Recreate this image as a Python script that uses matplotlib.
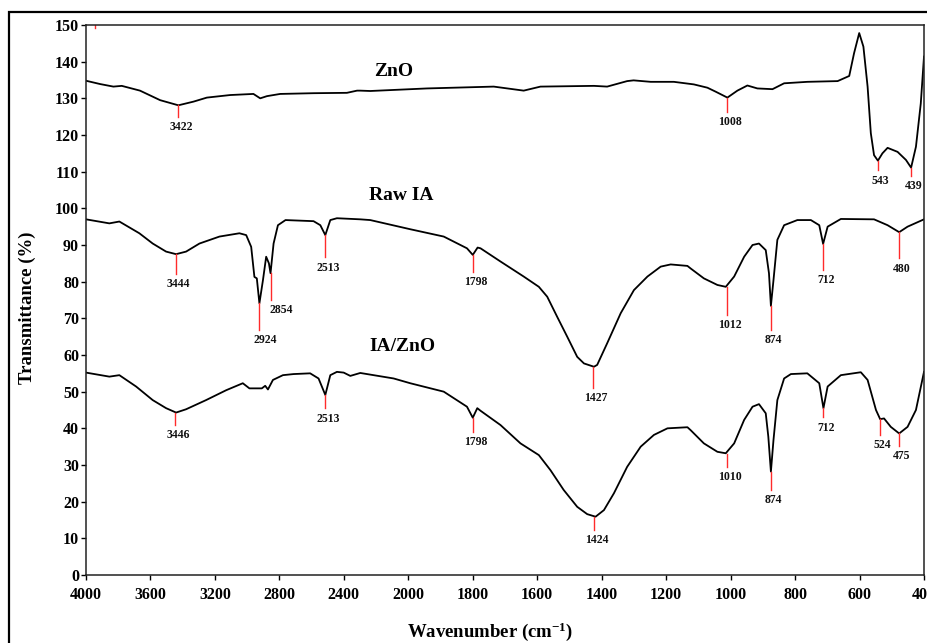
import numpy as np
import matplotlib
matplotlib.use("Agg")
import matplotlib.pyplot as plt
from matplotlib.patches import Rectangle

# ---------------- data ----------------
zno_wn = [4000, 3913, 3830, 3778, 3665, 3540, 3427, 3333, 3250, 3105, 2961, 2919, 2877,
          2795, 2588, 2381, 2318, 2298, 2236, 1942, 1735, 1642, 1590, 1424, 1383, 1321,
          1301, 1248, 1176, 1114, 1072, 1046, 1010, 979, 948, 917, 870, 834, 762, 668,
          632, 617, 601, 588, 575, 565, 555, 543, 529, 513, 482, 456, 440, 425, 410, 400]
zno_t = [134.8, 133.9, 133.2, 133.4, 132.1, 129.5, 128.1, 129.1, 130.2, 130.9, 131.2, 130.0, 130.6,
         131.2, 131.4, 131.5, 132.1, 132.1, 132.0, 132.7, 133.2, 132.1, 133.2, 133.4, 133.2, 134.7,
         134.9, 134.5, 134.5, 133.8, 132.9, 131.8, 130.2, 132.1, 133.5, 132.7, 132.5, 134.1, 134.5, 134.7,
         136.1, 142.3, 147.8, 144.1, 133.2, 120.5, 114.5, 113.0, 115.0, 116.5, 115.4, 113.2, 111.1, 116.8, 128.6, 141.4]

raw_wn = [4000, 3855, 3793, 3669, 3586, 3503, 3441, 3379, 3296, 3172, 3048, 3006, 2975, 2955,
          2940, 2924, 2902, 2882, 2865, 2855, 2836, 2809, 2762, 2588, 2546, 2515, 2484, 2443,
          2298, 2236, 1994, 1890, 1818, 1800, 1785, 1776, 1714, 1642, 1595, 1569, 1538, 1507,
          1476, 1455, 1424, 1414, 1383, 1341, 1300, 1258, 1217, 1186, 1134, 1124, 1083, 1041,
          1015, 989, 958, 932, 912, 891, 881, 875, 867, 855, 834, 793, 751, 725, 713, 699,
          658, 555, 513, 477, 451, 400]
raw_t = [97.0, 95.9, 96.4, 93.2, 90.4, 88.2, 87.5, 88.2, 90.4, 92.3, 93.2, 92.7, 89.5, 81.3,
         80.9, 74.1, 80.4, 86.8, 85.0, 82.3, 90.4, 95.4, 96.8, 96.5, 95.4, 92.7, 96.8, 97.3,
         97.0, 96.8, 94.3, 92.3, 89.1, 87.3, 89.3, 89.1, 85.5, 81.4, 78.6, 75.9, 70.4, 65.0,
         59.5, 57.7, 56.8, 57.3, 63.2, 71.4, 77.7, 81.4, 84.1, 84.7, 84.3, 83.6, 80.9, 79.1,
         78.6, 81.4, 86.8, 90.0, 90.4, 88.6, 82.3, 73.4, 80.4, 91.4, 95.4, 96.8, 96.8, 95.4, 90.3, 95.0,
         97.1, 97.0, 95.4, 93.5, 95.0, 97.0]

iazno_wn = [4000, 3855, 3793, 3689, 3586, 3503, 3441, 3379, 3255, 3130, 3027, 2986, 2909, 2888,
            2871, 2840, 2778, 2712, 2609, 2557, 2515, 2484, 2443, 2401, 2360, 2298, 2091, 1994,
            1890, 1818, 1800, 1786, 1776, 1714, 1652, 1595, 1559, 1518, 1476, 1445, 1419, 1393,
            1362, 1321, 1279, 1238, 1196, 1134, 1124, 1083, 1041, 1015, 989, 958, 932, 912, 891,
            883, 875, 867, 855, 834, 813, 762, 725, 712, 699, 658, 596, 575, 549, 536, 524, 503,
            477, 451, 425, 400]
iazno_t = [55.2, 54.1, 54.5, 51.4, 47.7, 45.5, 44.3, 45.2, 47.7, 50.4, 52.3, 50.9, 50.9, 51.6,
           50.6, 53.2, 54.5, 54.8, 55.0, 53.6, 49.1, 54.5, 55.4, 55.2, 54.3, 55.1, 53.6, 52.3,
           50.0, 45.9, 42.9, 45.5, 44.8, 40.9, 35.9, 32.7, 28.6, 23.2, 18.6, 16.6, 15.9, 17.7,
           22.3, 29.5, 35.0, 38.2, 40.0, 40.3, 39.5, 35.9, 33.6, 33.2, 35.9, 42.3, 45.9, 46.6, 44.1,
           37.7, 28.2, 36.8, 47.7, 53.6, 54.8, 55.0, 52.3, 45.5, 51.4, 54.5, 55.3, 53.2, 45.0, 42.5, 42.7, 40.4,
           38.6, 40.4, 45.0, 55.4]

# peak annotations: (label, wavenumber, T at peak, T at end of red marker)
peaks_zno = [("3422", 3427, 128.1, 124.9), ("1008", 1010, 130.0, 126.3),
             ("543", 543, 112.9, 110.4), ("439", 441, 111.0, 108.8)]
peaks_raw = [("3444", 3444, 87.5, 82.1), ("2924", 2924, 74.1, 66.8), ("2854", 2855, 82.3, 75.0),
             ("2513", 2515, 92.7, 86.7), ("1798", 1800, 87.3, 82.7), ("1427", 1427, 56.7, 51.0),
             ("1012", 1012, 78.6, 70.9), ("874", 875, 73.4, 66.8), ("712", 713, 90.3, 83.2),
             ("480", 477, 93.5, 86.4)]
peaks_iazno = [("3446", 3446, 44.2, 41.0), ("2513", 2515, 49.0, 45.5), ("1798", 1800, 42.8, 39.1),
               ("1424", 1424, 15.9, 12.3), ("1010", 1012, 33.1, 29.5), ("874", 875, 28.2, 23.2),
               ("712", 712, 45.5, 43.0), ("524", 537, 42.5, 38.2), ("475", 477, 38.6, 35.2)]

series_names = ["ZnO", "Raw IA", "IA/ZnO"]
name_pos = [(2093, 137.2), (2043, 103.6), (2039, 62.3)]

xticks = [4000, 3600, 3200, 2800, 2400, 2000, 1800, 1600, 1400, 1200, 1000, 800, 600, 400]
yticks = list(range(0, 151, 10))

# ---------------- style ----------------
plt.rcParams['font.family'] = ['Liberation Serif', 'DejaVu Serif']
plt.rcParams['font.weight'] = 'bold'
plt.rcParams['mathtext.fontset'] = 'custom'
plt.rcParams['mathtext.rm'] = 'Liberation Serif:bold'
plt.rcParams['mathtext.it'] = 'Liberation Serif:bold'
plt.rcParams['mathtext.bf'] = 'Liberation Serif:bold'

fig = plt.figure(figsize=(9.27, 6.43), dpi=100)
ax = fig.add_axes([86 / 927, 1 - 575 / 643, 838 / 927, 550 / 643])


def fwd(w):
    w = np.asarray(w, dtype=float)
    return np.where(w <= 2000, w, 2000 + (w - 2000) / 2.0)


def inv(p):
    p = np.asarray(p, dtype=float)
    return np.where(p <= 2000, p, 2000 + (p - 2000) * 2.0)


ax.set_xscale('function', functions=(fwd, inv))
ax.set_xlim(4000, 400)
ax.set_ylim(0, 150)

for wn, t in [(zno_wn, zno_t), (raw_wn, raw_t), (iazno_wn, iazno_t)]:
    ax.plot(wn, t, color='black', lw=1.3, solid_joinstyle='round')

red = '#ff2b2b'
label_dx = {"2854": 6, "2924": 2}
for peaks in (peaks_zno, peaks_raw, peaks_iazno):
    for lab, wn, ttop, tbot in peaks:
        ax.plot([wn, wn], [ttop, tbot], color=red, lw=1.0)
        ax.annotate(lab, xy=(wn, tbot), xytext=(2 + label_dx.get(lab, 0), -7.5),
                    textcoords='offset points', ha='center', va='center',
                    fontsize=8.5, fontweight='bold', color='#111111')

for name, (wx, ty) in zip(series_names, name_pos):
    ax.text(wx, ty, name, ha='center', va='center', fontsize=14, fontweight='bold')

# tiny red mark at top of axes
ax.plot([3944, 3944], [150, 149.2], color=red, lw=1.0)

ax.set_xticks(xticks)
ax.set_xticklabels([str(v) for v in xticks])
ax.minorticks_off()
ax.set_yticks(yticks)
ax.tick_params(axis='both', labelsize=11.5, direction='out', length=3.5, width=1.0)
ax.tick_params(axis='x', pad=5)
ax.tick_params(axis='y', pad=1.5)
for lbl in ax.get_xticklabels() + ax.get_yticklabels():
    lbl.set_fontweight('bold')

for sp in ax.spines.values():
    sp.set_linewidth(1.1)
    sp.set_color('#222222')

ax.set_xlabel('Wavenumber (cm$^{-1}$)', fontsize=13.5, fontweight='bold', va='center')
ax.xaxis.set_label_coords(0.482, -0.103)
ax.set_ylabel('Transmittance (%)', fontsize=13.5, fontweight='bold', va='center', ha='center')
ax.yaxis.set_label_coords(-0.0704, 0.485)

# outer frame (partially cropped in the reference)
fig.patches.append(Rectangle((9 / 927, -0.2), 1.2, 0.2 + 1 - 12 / 643, transform=fig.transFigure,
                             fill=False, edgecolor='black', lw=1.6))

fig.savefig('out.png', dpi=100)
